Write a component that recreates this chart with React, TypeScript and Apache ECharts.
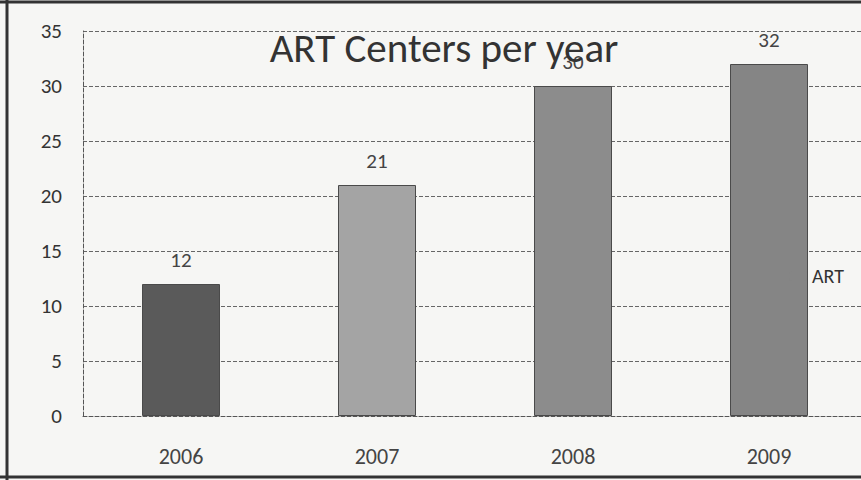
import React, { useEffect, useRef } from "react";
import * as echarts from "echarts";

const years = ["2006", "2007", "2008", "2009"];
const artCenters = [12, 21, 30, 32];
const barColors = ["#5a5a5a", "#a4a4a4", "#8c8c8c", "#858585"];
const yTicks = [0, 5, 10, 15, 20, 25, 30, 35];

const FONT = "Carlito, Lato, 'Open Sans', sans-serif";

export default function App() {
  const ref = useRef<HTMLDivElement>(null);
  useEffect(() => {
    document.body.style.margin = "0";
    const chart = echarts.init(ref.current!, null, { renderer: "svg" });
    chart.setOption({
      animation: false,
      backgroundColor: "#f6f6f4",
      title: {
        text: "ART Centers per year",
        left: 439,
        top: 22,
        textAlign: "center",
        textStyle: { fontFamily: FONT, fontSize: 41, fontWeight: "normal", color: "#333" },
      },
      legend: {
        data: ["ART"],
        left: 784,
        top: 261,
        itemWidth: 18,
        itemHeight: 10,
        itemGap: 5,
        itemStyle: { color: "#858585", borderWidth: 0 },
        textStyle: { fontFamily: FONT, fontSize: 20, color: "#333", padding: [0, 0, 0, 0] },
      },
      grid: { left: 83, top: 31, width: 784, height: 385 },
      xAxis: {
        type: "category",
        data: years,
        axisLine: { show: true, lineStyle: { color: "#555", type: "dashed", width: 1 } },
        axisTick: { show: false },
        axisLabel: { fontFamily: FONT, fontSize: 22, color: "#444", margin: 29 },
      },
      yAxis: {
        type: "value",
        min: yTicks[0],
        max: yTicks[yTicks.length - 1],
        interval: 5,
        axisLine: { show: true, lineStyle: { color: "#555", type: "dashed", width: 1 } },
        axisTick: { show: false },
        axisLabel: { fontFamily: FONT, fontSize: 21, color: "#333", margin: 21 },
        splitLine: { show: true, lineStyle: { color: "#666", type: "dashed", width: 1 } },
      },
      graphic: [
        { type: "line", shape: { x1: 0, y1: 2, x2: 880, y2: 2 }, style: { stroke: "#333", lineWidth: 3 } },
        { type: "line", shape: { x1: 7, y1: 0, x2: 7, y2: 480 }, style: { stroke: "#333", lineWidth: 3 } },
        { type: "line", shape: { x1: 0, y1: 477, x2: 880, y2: 477 }, style: { stroke: "#333", lineWidth: 3 } },
      ],
      series: [
        {
          name: "ART",
          type: "bar",
          barWidth: 78,
          itemStyle: { color: "#858585", borderColor: "#4a4a4a", borderWidth: 1 },
          data: artCenters.map((v, i) => ({ value: v, itemStyle: { color: barColors[i] } })),
          label: {
            show: true,
            position: "top",
            distance: 14,
            fontFamily: FONT,
            fontSize: 21,
            color: "#444",
          },
        },
      ],
    });
    return () => chart.dispose();
  }, []);
  return (
    <div style={{ width: 861, height: 480, position: "absolute", left: 0, top: 0, overflow: "hidden" }}>
      <div ref={ref} style={{ width: 880, height: 480 }} />
    </div>
  );
}
